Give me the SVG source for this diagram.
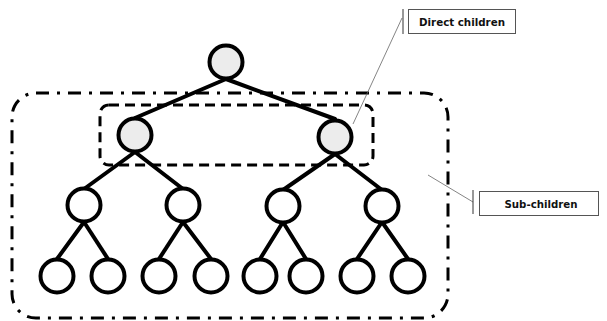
<svg xmlns="http://www.w3.org/2000/svg" width="607" height="321" viewBox="0 0 607 321">
  <style>
    .node { stroke: #000; stroke-width: 4; fill: #fff; }
    .node.shaded { fill: #ececec; }
    .edge { stroke: #000; stroke-width: 4; stroke-linecap: round; fill: none; }
    .group-outer { fill: none; stroke: #000; stroke-width: 3; stroke-dasharray: 13 8 3 8; }
    .group-inner { fill: none; stroke: #000; stroke-width: 3; stroke-dasharray: 10 6; }
    .callout-line { stroke: #666; stroke-width: 0.8; fill: none; }
    .callout-box { fill: #fff; stroke: #555; stroke-width: 1; }
    .callout-bar { stroke: #333; stroke-width: 1; }
    .label { font-family: "DejaVu Sans", "Liberation Sans", sans-serif; font-size: 10px; font-weight: bold; fill: #111; text-anchor: middle; }
  </style>

  <rect width="607" height="321" fill="#fff"/>

  <!-- grouping outlines -->
  <g id="groups">
    <rect class="group-outer" x="12" y="93" width="436" height="225" rx="24" ry="24"/>
    <rect class="group-inner" x="100" y="105" width="273" height="60" rx="9" ry="9"/>
  </g>

  <!-- tree edges -->
  <g id="connectors">
    <line class="edge" x1="226" y1="79" x2="135" y2="118"/>
    <line class="edge" x1="226" y1="79" x2="335" y2="119"/>
    <line class="edge" x1="135" y1="152" x2="84" y2="189"/>
    <line class="edge" x1="135" y1="152" x2="183" y2="189"/>
    <line class="edge" x1="335" y1="154" x2="283" y2="190"/>
    <line class="edge" x1="335" y1="154" x2="382" y2="190"/>
    <line class="edge" x1="84" y1="222" x2="57" y2="259"/>
    <line class="edge" x1="84" y1="222" x2="108" y2="259"/>
    <line class="edge" x1="183" y1="222" x2="159" y2="259"/>
    <line class="edge" x1="183" y1="222" x2="211" y2="259"/>
    <line class="edge" x1="283" y1="222" x2="260" y2="259"/>
    <line class="edge" x1="283" y1="222" x2="306" y2="259"/>
    <line class="edge" x1="382" y1="222" x2="357" y2="259"/>
    <line class="edge" x1="382" y1="222" x2="408" y2="259"/>
  </g>

  <!-- root -->
  <g id="root"><circle class="node shaded" cx="226" cy="62" r="16.5"/></g>

  <!-- direct children -->
  <g id="child-1"><circle class="node shaded" cx="135" cy="135" r="16.5"/></g>
  <g id="child-2"><circle class="node shaded" cx="335" cy="137" r="16.5"/></g>

  <!-- second level -->
  <g id="child-1-1"><circle class="node" cx="84" cy="205" r="16.5"/></g>
  <g id="child-1-2"><circle class="node" cx="183" cy="205" r="16.5"/></g>
  <g id="child-2-1"><circle class="node" cx="283" cy="206" r="16.5"/></g>
  <g id="child-2-2"><circle class="node" cx="382" cy="206" r="16.5"/></g>

  <!-- leaves -->
  <g id="leaf-1"><circle class="node" cx="57" cy="276" r="16.5"/></g>
  <g id="leaf-2"><circle class="node" cx="108" cy="276" r="16.5"/></g>
  <g id="leaf-3"><circle class="node" cx="159" cy="276" r="16.5"/></g>
  <g id="leaf-4"><circle class="node" cx="211" cy="276" r="16.5"/></g>
  <g id="leaf-5"><circle class="node" cx="260" cy="276" r="16.5"/></g>
  <g id="leaf-6"><circle class="node" cx="306" cy="276" r="16.5"/></g>
  <g id="leaf-7"><circle class="node" cx="357" cy="276" r="16.5"/></g>
  <g id="leaf-8"><circle class="node" cx="408" cy="276" r="16.5"/></g>

  <!-- callouts -->
  <g id="callout-direct">
    <line class="callout-line" x1="402" y1="18" x2="353" y2="124"/>
    <line class="callout-bar" x1="403" y1="9" x2="403" y2="34"/>
    <rect class="callout-box" x="408.5" y="9.5" width="107" height="24"/>
    <text class="label" x="462" y="26" textLength="86" lengthAdjust="spacingAndGlyphs">Direct children</text>
  </g>
  <g id="callout-sub">
    <line class="callout-line" x1="428" y1="175" x2="473" y2="202"/>
    <line class="callout-bar" x1="473" y1="190" x2="473" y2="214"/>
    <rect class="callout-box" x="479.5" y="191.5" width="119" height="24"/>
    <text class="label" x="541" y="208" textLength="73" lengthAdjust="spacingAndGlyphs">Sub-children</text>
  </g>
</svg>
